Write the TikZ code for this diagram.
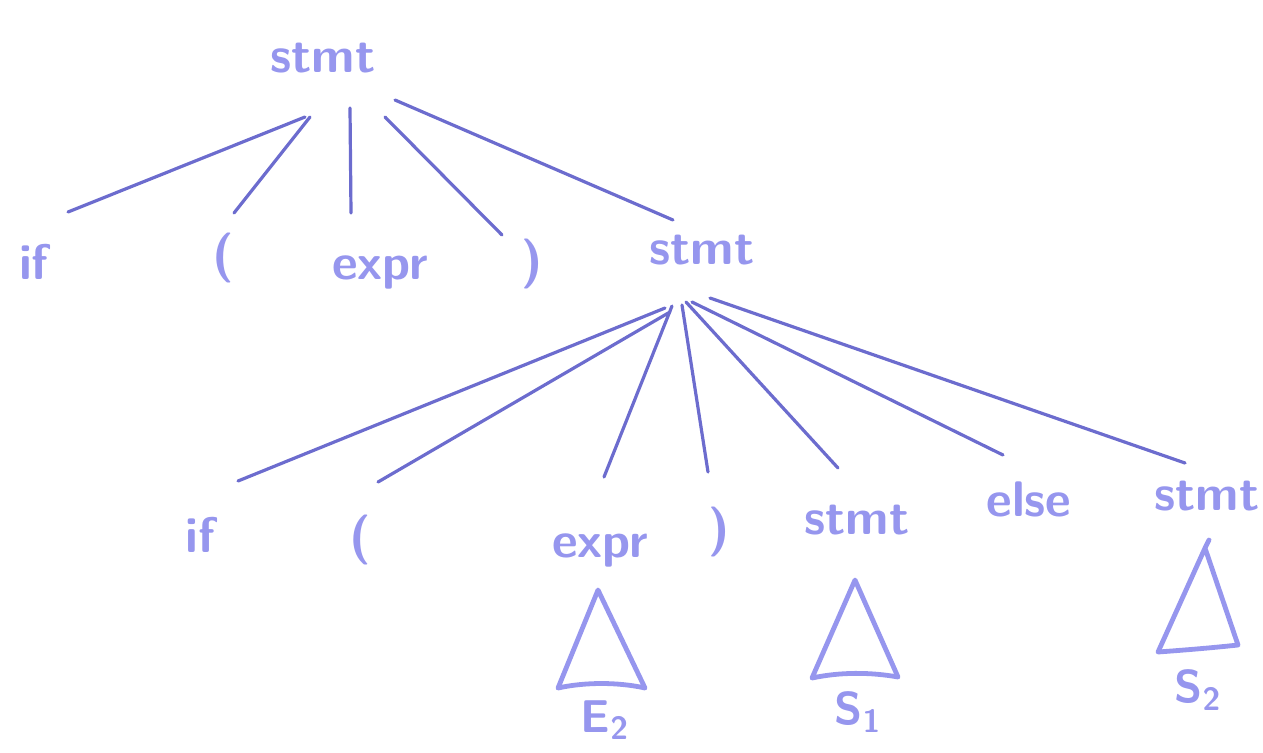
\documentclass[tikz,border=0pt]{standalone}
\definecolor{ptink}{RGB}{150,150,238}
\definecolor{ptline}{RGB}{108,108,206}
\tikzset{
  ptsym/.style={text=ptink, font=\sffamily\bfseries\fontsize{25}{30}\selectfont, inner sep=0pt},
  ptleaf/.style={text=ptink, font=\sffamily\bfseries\fontsize{23}{28}\selectfont, inner sep=0pt},
  ptedge/.style={draw=ptline, line width=1.6pt, line cap=round},
  ptsub/.style={draw=ptink, line width=2.4pt, line join=round, line cap=round}
}

\begin{document}
\begin{tikzpicture}[x=0.5pt, y=-0.5pt]
\useasboundingbox (0,0) rectangle (1263,752);

\node[ptsym] (s0) at (323,58) {stmt};

\node[ptsym] (if0) at (34,262) {if};
\node[ptsym] (lp0) at (223,258) {(};
\node[ptsym] (ex0) at (380,272) {expr};
\node[ptsym] (rp0) at (532,264) {)};
\node[ptsym] (s1) at (702,250) {stmt};

\node[ptsym] (if1) at (200,535) {if};
\node[ptsym] (lp1) at (360,540) {(};
\node[ptsym] (ex1) at (600,550) {expr};
\node[ptsym] (rp1) at (719,532) {)};
\node[ptsym] (s2) at (857,520) {stmt};
\node[ptsym] (el1) at (1029,499) {else};
\node[ptsym] (s3) at (1207,496) {stmt};

\draw[ptedge] ([shift={(-18,59)}]s0.center) -- ([shift={(34,-50)}]if0.center);
\draw[ptedge] ([shift={(-13,59)}]s0.center) -- ([shift={(11,-45)}]lp0.center);
\draw[ptedge] ([shift={(27,50)}]s0.center) -- ([shift={(-29,-59)}]ex0.center);
\draw[ptedge] ([shift={(62,59)}]s0.center) -- ([shift={(-30,-29)}]rp0.center);
\draw[ptedge] ([shift={(72,42)}]s0.center) -- ([shift={(-29,-30)}]s1.center);

\draw[ptedge] ([shift={(-37,58)}]s1.center) -- ([shift={(38,-54)}]if1.center);
\draw[ptedge] ([shift={(-32,62)}]s1.center) -- ([shift={(18,-58)}]lp1.center);
\draw[ptedge] ([shift={(-30,56)}]s1.center) -- ([shift={(4,-73)}]ex1.center);
\draw[ptedge] ([shift={(-20,55)}]s1.center) -- ([shift={(-11,-60)}]rp1.center);
\draw[ptedge] ([shift={(-16,52)}]s1.center) -- ([shift={(-19,-52)}]s2.center);
\draw[ptedge] ([shift={(-10,52)}]s1.center) -- ([shift={(-26,-44)}]el1.center);
\draw[ptedge] ([shift={(8,48)}]s1.center) -- ([shift={(-22,-33)}]s3.center);

\draw[ptsub] (598,590) -- (645,688) .. controls (618,682) and (585,682) .. (558,688) -- cycle;
\draw[ptsub] (855,580) -- (898,677) .. controls (870,672) and (840,672) .. (812,678) -- cycle;
\draw[ptsub] (1209,540) -- (1205,548) -- (1238,645) .. controls (1210,648) and (1185,650) .. (1158,652) -- (1205,548);

\node[ptleaf] (e2) at (605,720) {E\textsubscript{2}};
\node[ptleaf] (t1) at (858,712) {S\textsubscript{1}};
\node[ptleaf] (t2) at (1198,690) {S\textsubscript{2}};
\end{tikzpicture}
\end{document}
